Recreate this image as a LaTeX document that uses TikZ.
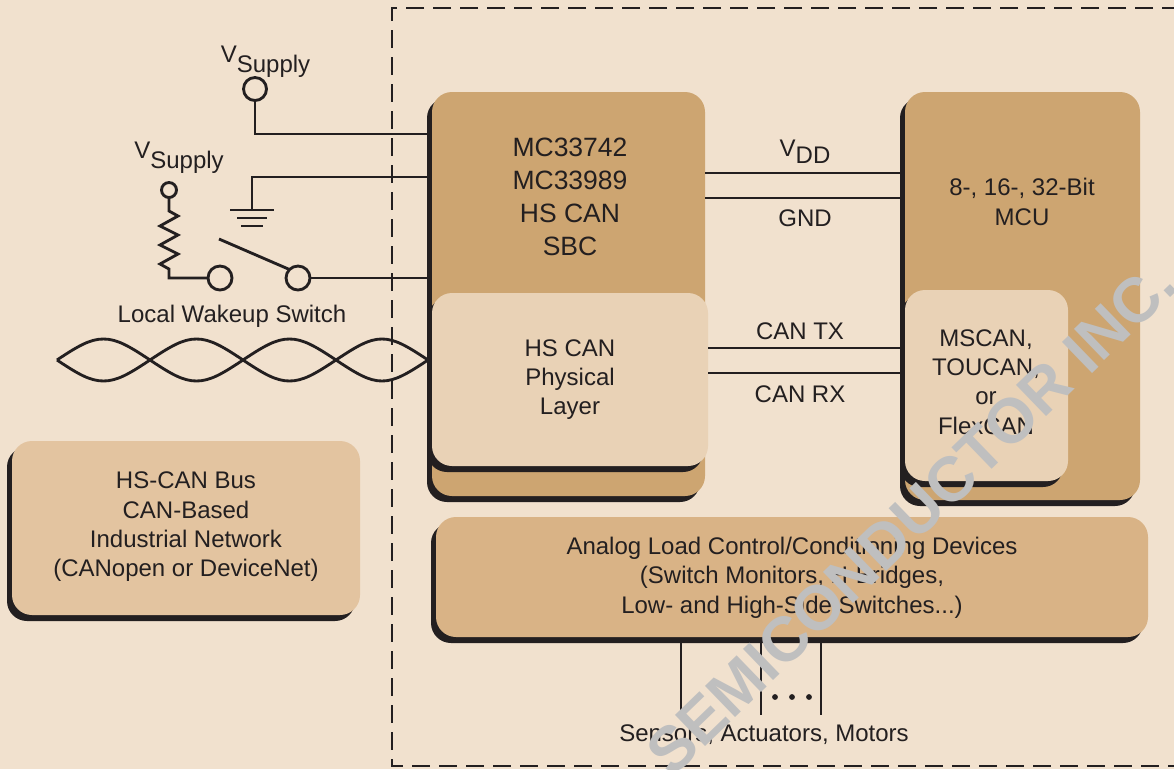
\documentclass[tikz,border=0pt]{standalone}
\usepackage{fontspec}
\setmainfont{Liberation Sans}
\definecolor{bgc}{HTML}{F1E1CE}
\definecolor{ink}{HTML}{231F20}
\definecolor{tan}{HTML}{CDA571}
\definecolor{inner}{HTML}{E9D2B6}
\definecolor{analog}{HTML}{D9B386}
\definecolor{bus}{HTML}{E3C4A0}
\definecolor{mark}{HTML}{BFBFBF}
\tikzset{
  blk/.style={rounded corners=20pt,minimum width=#1,anchor=north west,inner sep=0pt,outer sep=0pt},
  wire/.style={draw=ink,line width=2.85pt},
  term/.style={circle,draw=ink,line width=2.85pt,inner sep=0pt,outer sep=0pt,fill=none},
  lbl/.style={text=ink,align=center,inner sep=0pt,font=\fontsize{24}{29.3}\selectfont},
  biglbl/.style={text=ink,align=center,inner sep=0pt,font=\fontsize{26.5}{33}\selectfont},
}
\begin{document}
\begin{tikzpicture}[x=1pt,y=-1pt]
\useasboundingbox (0,0) rectangle (1174,769);
\clip (0,0) rectangle (1174,769);
\fill[bgc] (0,0) rectangle (1174,769);
% dashed frame
\draw[draw=ink,line width=2.85pt,dash pattern=on 18pt off 9pt] (1180,8) -- (392,8) -- (392,766) -- (1180,766);
% shadows
\node[blk=273pt,minimum height=404pt,fill=ink] (sbcs) at (427,98) {};
\node[blk=235pt,minimum height=408pt,fill=ink] (mcus) at (900,98) {};
\node[blk=712pt,minimum height=120pt,fill=ink] (anas) at (431,523) {};
\node[blk=348pt,minimum height=174pt,fill=ink] (buss) at (7,447) {};
% blocks
\node[blk=273pt,minimum height=404pt,fill=tan] (sbc) at (432,92) {};
\node[blk=276pt,minimum height=173pt,fill=ink] (phys) at (427,299) {};
\node[blk=276pt,minimum height=173pt,fill=inner] (physf) at (432,293) {};
\node[blk=235pt,minimum height=408pt,fill=tan] (mcu) at (905,92) {};
\node[blk=163pt,minimum height=191pt,fill=ink] (can) at (900,296) {};
\node[blk=163pt,minimum height=191pt,fill=inner] (canf) at (905,290) {};
\node[blk=712pt,minimum height=120pt,fill=analog] (ana) at (436,517) {};
\node[blk=348pt,minimum height=174pt,fill=bus] (busb) at (12,441) {};
% terminals
\node[term,minimum size=23pt] (vs1) at (255,89) {};
\node[term,minimum size=15pt] (vs2) at (169,190) {};
\node[term,minimum size=24pt] (sw1) at (220,278) {};
\node[term,minimum size=24pt] (sw2) at (298,278) {};
\coordinate (gnd) at (252,210);
\coordinate (swtip) at (219,239);
% wires
\draw[wire] (vs1.south) |- (sbcs.west |- 0,134);
\draw[wire] (gnd) |- (sbcs.west |- 0,177);
\draw[wire] (gnd -| 230,0) -- (gnd -| 274,0);
\draw[wire] (237,218) -- (267,218);
\draw[wire] (241,226) -- (263,226);
\draw[wire,line join=miter] (vs2.south) -- (169,211) -- (178,216) -- (160,226) -- (178,235) -- (160,245) -- (178,254) -- (160,264) -- (169,269) |- (sw1.west);
\draw[wire] (swtip) -- (sw2.north west);
\draw[wire] (sw2.east) -- (sbcs.west |- sw2.east);
\draw[wire] (sbc.east |- 0,173) -- (mcus.west |- 0,173);
\draw[wire] (sbc.east |- 0,198) -- (mcus.west |- 0,198);
\draw[wire] (physf.east |- 0,348) -- (mcus.west |- 0,348);
\draw[wire] (physf.east |- 0,373) -- (mcus.west |- 0,373);
\draw[wire] (681,643) -- (681,715);
\draw[wire] (761,643) -- (761,715);
\draw[wire] (821,643) -- (821,715);
\foreach \d in {775,792,809} \fill[ink] (\d,697) circle (2.9pt);
% twisted pair
\foreach \s in {-1,1}{
  \draw[wire,line join=round] (57,360)
    .. controls (78,{360+\s*(-14)}) and (90,{360+\s*(-21)}) .. (103.5,{360+\s*(-21)})
    .. controls (117,{360+\s*(-21)}) and (129,{360+\s*(-14)}) .. (150,360)
    .. controls (171,{360+\s*14}) and (183,{360+\s*21}) .. (196.5,{360+\s*21})
    .. controls (210,{360+\s*21}) and (222,{360+\s*14}) .. (243,360)
    .. controls (264,{360+\s*(-14)}) and (276,{360+\s*(-21)}) .. (289.5,{360+\s*(-21)})
    .. controls (303,{360+\s*(-21)}) and (315,{360+\s*(-14)}) .. (336,360)
    .. controls (357,{360+\s*14}) and (369,{360+\s*21}) .. (382,{360+\s*21})
    .. controls (395,{360+\s*21}) and (407,{360+\s*14}) .. (428,360);
}
% labels
\node[lbl] (l1) at (265.5,62) {V\raisebox{-10pt}{Supply}};
\node[lbl] (l2) at (179,158) {V\raisebox{-10pt}{Supply}};
\node[lbl] (l3) at (232,316) {Local Wakeup Switch};
\node[biglbl] (t1) at (570,197) {MC33742\\MC33989\\HS CAN\\SBC};
\node[lbl] (t2) at (570,379.5) {HS CAN\\Physical\\Layer};
\node[lbl] (t3) at (1022,202) {8-, 16-, 32-Bit\\MCU};
\node[lbl] (t4) at (986,382) {MSCAN,\\TOUCAN,\\or\\FlexCAN};
\node[lbl] (t5) at (792,577.5) {Analog Load Control/Conditioning Devices\\(Switch Monitors, H-Bridges,\\Low- and High-Side Switches...)};
\node[lbl] (t6) at (186,527) {HS-CAN Bus\\CAN-Based\\Industrial Network\\(CANopen or DeviceNet)};
\node[lbl] (t7) at (805,152) {V\raisebox{-7pt}{DD}};
\node[lbl] (t8) at (805,218) {GND};
\node[lbl] (t9) at (800,331) {CAN TX};
\node[lbl] (t10) at (800,394) {CAN RX};
\node[lbl] (t11) at (764,735) {Sensors, Actuators, Motors};
% watermark
\node[text=mark,inner sep=0pt,rotate=44,font=\fontsize{63}{71}\bfseries\selectfont] (wm) at (911,518) {SEMICONDUCTOR INC.};
\end{tikzpicture}
\end{document}
